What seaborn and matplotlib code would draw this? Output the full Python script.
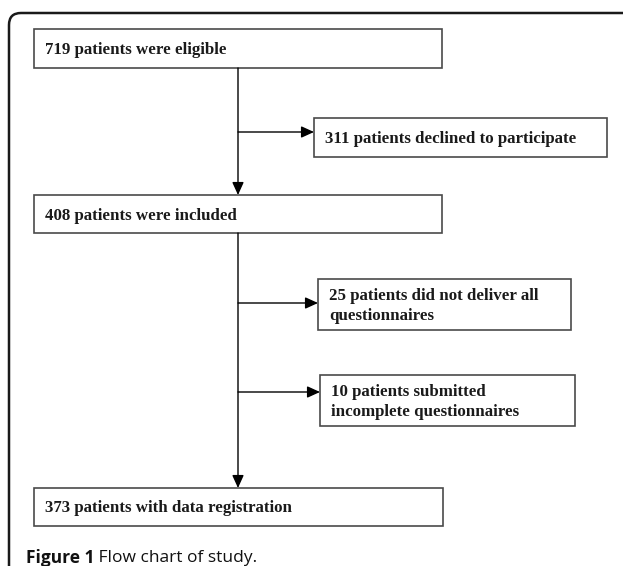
import matplotlib
matplotlib.use("Agg")
import matplotlib.pyplot as plt
from matplotlib.patches import Rectangle
from matplotlib.path import Path
from matplotlib.patches import PathPatch
import seaborn as sns

# flow counts
counts = [719, 311, 408, 25, 10, 373]
labels = [
    "%d patients were eligible" % counts[0],
    "%d patients declined to participate" % counts[1],
    "%d patients were included" % counts[2],
    "%d patients did not deliver all\nquestionnaires" % counts[3],
    "%d patients submitted\nincomplete questionnaires" % counts[4],
    "%d patients with data registration" % counts[5],
]
caption_bold = "Figure 1"
caption_rest = " Flow chart of study."

# layout in pixels: (left, top, right, bottom)
boxes = [
    (34, 29, 442, 68),
    (314, 118, 607, 157),
    (34, 195, 442, 233),
    (318, 279, 571, 330),
    (320, 375, 575, 426),
    (34, 488, 443, 526),
]
trunk_x = 238
side_arrows = [(1, 132), (3, 303), (4, 392)]

sns.set_theme(style="white")
plt.rcParams['font.family'] = ['Liberation Serif', 'DejaVu Serif']

W, H = 625, 566
fig = plt.figure(figsize=(W / 100, H / 100), dpi=100)
ax = fig.add_axes([0, 0, 1, 1])
ax.set_xlim(0, W)
ax.set_ylim(H, 0)
ax.axis("off")

# outer frame with rounded top-left corner
r = 12
verts = [(9, H + 2), (9, 13 + r), (9, 13), (9 + r, 13), (623, 13)]
codes = [Path.MOVETO, Path.LINETO, Path.CURVE3, Path.CURVE3, Path.LINETO]
ax.add_patch(PathPatch(Path(verts, codes), fill=False, lw=1.8, ec="#1a1a1a",
                       capstyle="butt"))

for (l, t, rr, b), lab in zip(boxes, labels):
    ax.add_patch(Rectangle((l, t), rr - l, b - t, fill=False, lw=1.2, ec="#4a4a4a"))
    ax.text(l + 11, (t + b) / 2 + 1.5, lab, ha="left", va="center",
            fontsize=12.2, fontweight="bold", color="#1a1a1a",
            linespacing=1.28)

arrow_kw = dict(arrowstyle="-|>,head_length=0.55,head_width=0.25",
                color="black", lw=1.0, shrinkA=0, shrinkB=0,
                mutation_scale=14)

# vertical trunk
ax.annotate("", xy=(trunk_x, boxes[2][1]), xytext=(trunk_x, boxes[0][3]),
            arrowprops=arrow_kw)
ax.annotate("", xy=(trunk_x, boxes[5][1]), xytext=(trunk_x, boxes[2][3]),
            arrowprops=arrow_kw)

# side branches
for idx, y in side_arrows:
    ax.annotate("", xy=(boxes[idx][0], y), xytext=(trunk_x, y),
                arrowprops=arrow_kw)

# caption
t1 = ax.text(26, 558, caption_bold, ha="left", va="center", fontsize=12.5,
             fontweight="bold", family=["Open Sans", "DejaVu Sans"], color="#111111")
fig.canvas.draw()
bb = t1.get_window_extent()
x_end = ax.transData.inverted().transform((bb.x1, bb.y0))[0]
ax.text(x_end, 558, caption_rest, ha="left", va="center", fontsize=12.5,
        family=["Open Sans", "DejaVu Sans"], color="#111111")

fig.savefig("out.png", dpi=100)
